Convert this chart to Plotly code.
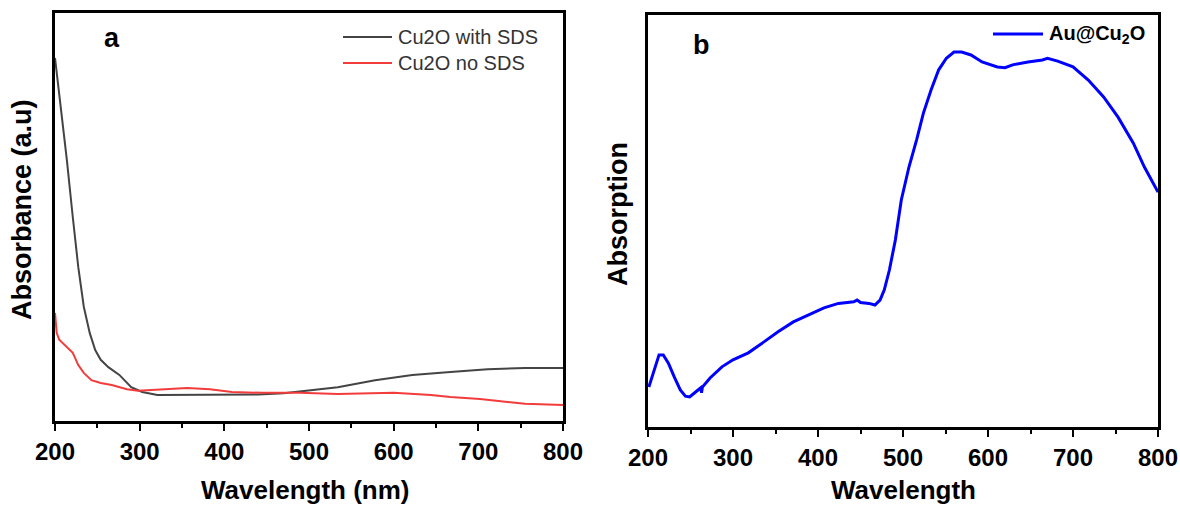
import plotly.graph_objects as go

# ---- Panel a: UV-vis absorbance of Cu2O samples (arbitrary units) ----
wl_sds = [200, 207.5, 214, 221, 227.5, 234, 241, 247.5, 254, 263, 276, 290, 303, 321,
          360, 400, 440, 470, 498, 534, 578, 622, 667, 711, 755, 800]
abs_sds = [0.89, 0.762, 0.64, 0.50, 0.377, 0.28, 0.216, 0.174, 0.15, 0.132, 0.113, 0.083,
           0.071, 0.064, 0.064, 0.064, 0.065, 0.068, 0.074, 0.083, 0.10, 0.113, 0.12,
           0.127, 0.13, 0.13]

wl_nosds = [200, 202, 205, 214, 221, 227.5, 234, 243, 254, 267, 285, 298, 330, 356, 383,
            409, 445, 489, 534, 600, 644, 667, 702, 734, 755, 800]
abs_nosds = [0.265, 0.216, 0.199, 0.181, 0.167, 0.137, 0.118, 0.10, 0.093, 0.088, 0.078,
             0.074, 0.078, 0.081, 0.078, 0.071, 0.069, 0.069, 0.066, 0.069, 0.064, 0.059,
             0.054, 0.047, 0.042, 0.039]

# ---- Panel b: absorption of Au@Cu2O ----
wl_au = [201, 207, 213, 218, 224, 231, 238, 244, 249, 256, 262, 263, 264, 273, 287, 300,
         318, 336, 353, 371, 389, 407, 424, 442, 446, 450, 460, 467, 473, 478, 484, 491,
         498, 507, 516, 524, 533, 542, 551, 560, 569, 580, 593, 611, 620, 629, 647, 664,
         670, 682, 700, 718, 736, 753, 771, 784, 800]
abs_au = [0.097, 0.138, 0.175, 0.175, 0.155, 0.121, 0.090, 0.075, 0.073, 0.085, 0.095,
          0.083, 0.097, 0.119, 0.146, 0.163, 0.18, 0.206, 0.231, 0.255, 0.272, 0.289, 0.30,
          0.304, 0.308, 0.302, 0.30, 0.296, 0.308, 0.333, 0.381, 0.454, 0.551, 0.631, 0.697,
          0.762, 0.818, 0.867, 0.895, 0.91, 0.91, 0.903, 0.886, 0.874, 0.872, 0.879, 0.886,
          0.891, 0.895, 0.888, 0.874, 0.842, 0.801, 0.752, 0.689, 0.631, 0.570]

x_ticks = [200, 300, 400, 500, 600, 700, 800]

W, H = 1180, 505
FONT = "Liberation Sans"


def px(x):
    return x / W


def py(y):
    return 1 - y / H


fig = go.Figure()
fig.add_trace(go.Scatter(x=wl_sds, y=abs_sds, mode="lines", name="Cu2O with SDS",
                         line=dict(color="#444444", width=2), xaxis="x", yaxis="y"))
fig.add_trace(go.Scatter(x=wl_nosds, y=abs_nosds, mode="lines", name="Cu2O no SDS",
                         line=dict(color="#f23c3c", width=2), xaxis="x", yaxis="y"))
fig.add_trace(go.Scatter(x=wl_au, y=abs_au, mode="lines", name="Au@Cu<sub>2</sub>O",
                         line=dict(color="#0000ff", width=3), xaxis="x2", yaxis="y2"))

xcommon = dict(range=[200, 800], tickvals=x_ticks, ticks="outside", ticklen=7,
               tickwidth=2, tickcolor="black", showline=True, linewidth=3,
               linecolor="black", mirror=True, showgrid=False, zeroline=False,
               automargin=False,
               tickfont=dict(family=FONT, size=24, color="black", weight="bold"),
               minor=dict(dtick=50, ticks="outside", ticklen=4, tickwidth=2,
                          tickcolor="black", showgrid=False))
ycommon = dict(range=[0, 1], showticklabels=False, ticks="", showline=True,
               linewidth=3, linecolor="black", mirror=True, showgrid=False,
               zeroline=False, automargin=False)

fig.update_layout(
    template="none",
    width=W, height=H, margin=dict(l=0, r=0, t=0, b=0, autoexpand=False),
    paper_bgcolor="white", plot_bgcolor="white", showlegend=False,
    xaxis=dict(domain=[px(55), px(563)], anchor="y", **xcommon),
    yaxis=dict(domain=[py(421), py(13)], anchor="x", **ycommon),
    xaxis2=dict(domain=[px(648), px(1158)], anchor="y2", **xcommon),
    yaxis2=dict(domain=[py(427), py(15)], anchor="x2", **ycommon),
)

bold = dict(family=FONT, color="black", weight="bold")
annotations = [
    dict(text="Wavelength (nm)", x=px(305), y=py(490), font=dict(size=26, **bold)),
    dict(text="Wavelength", x=px(903), y=py(490), font=dict(size=26, **bold)),
    dict(text="Absorbance (a.u)", x=px(22), y=py(210), textangle=-90,
         font=dict(size=27, **bold)),
    dict(text="Absorption", x=px(618), y=py(214), textangle=-90,
         font=dict(size=27, **bold)),
    dict(text="a", x=px(112), y=py(38), font=dict(size=27, **bold)),
    dict(text="b", x=px(701), y=py(45), font=dict(size=27, **bold)),
]
for a in annotations:
    a.update(xref="paper", yref="paper", showarrow=False, xanchor="center",
             yanchor="middle")
    fig.add_annotation(**a)

# legend entries: sample line + label
legend_items = [
    (343, 392, 37, fig.data[0], dict(family=FONT, size=20, color="#333333")),
    (343, 392, 63, fig.data[1], dict(family=FONT, size=20, color="#333333")),
    (993, 1043, 34, fig.data[2], dict(size=20, **bold)),
]
for x0, x1, yy, tr, f in legend_items:
    fig.add_shape(type="line", xref="paper", yref="paper", x0=px(x0), x1=px(x1),
                  y0=py(yy), y1=py(yy), line=dict(color=tr.line.color, width=tr.line.width))
    fig.add_annotation(text=tr.name, xref="paper", yref="paper", x=px(x1 + 4), y=py(yy),
                       xanchor="left", yanchor="middle", showarrow=False, font=f)

fig.write_html("out.html")
